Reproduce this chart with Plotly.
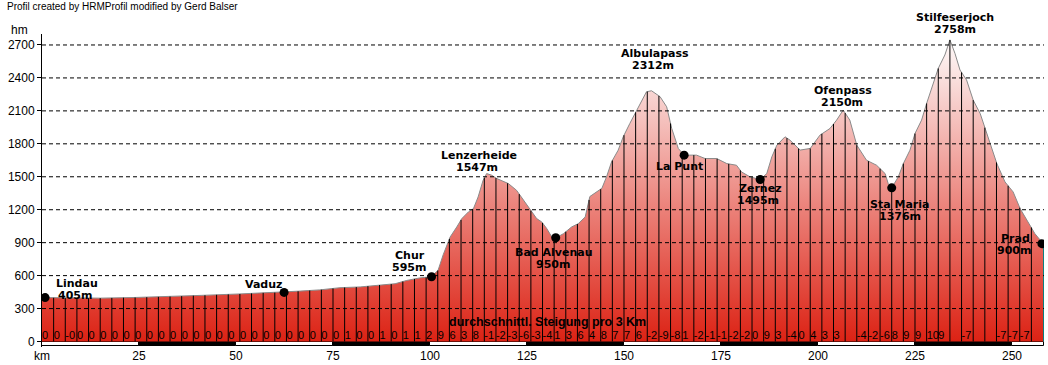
import numpy as np
import plotly.graph_objects as go

# ---------------- data ----------------
profile_km = [0, 7.4, 15, 24, 32, 41, 51, 57.5, 62.4, 66.5, 71.6, 76.8, 82, 85.8, 91, 94, 97.4, 100.4,
              102.1, 103.4, 105.2, 106.9, 108.2, 109.9, 111.2, 112.4, 113.7, 114.6, 115.9, 117.2, 120.2,
              122.3, 123.2, 124.9, 126.2, 127.5, 128.8, 130.1, 131.4, 132.4, 134.4, 136.5, 138.2, 140.0,
              141.2, 143.0, 144.3, 145.5, 146.8, 148.5, 149.8, 151.5, 153.3, 154.6, 155.8, 157.1, 158.0,
              159.3, 161.0, 162.3, 164.0, 165.5, 167.0, 168.7, 170.9, 173.9, 176.5, 179.0, 180.3, 182.5,
              185.1, 186.8, 188.1, 189.4, 191.5, 192.8, 195.4, 198.0, 200.5, 203.1, 204.8, 206.5, 208.2,
              210.0, 212.5, 215.1, 217.3, 218.1, 219.0, 220.7, 222.0, 223.7, 225.0, 226.7, 228.0, 229.7,
              231.0, 232.7, 234.0, 235.3, 236.6, 238.3, 240.0, 241.8, 243.5, 246.1, 248.2, 250.3, 252.1,
              254.2, 255.9, 258.2]
profile_elev = [400, 395, 395, 401, 408, 420, 433, 444, 447, 459, 470, 490, 497, 511, 526, 556, 579, 590,
                650, 790, 952, 1043, 1119, 1180, 1210, 1316, 1469, 1529, 1514, 1484, 1438,
                1377, 1332, 1256, 1180, 1119, 1089, 1028, 952, 943, 982, 1043, 1073, 1134,
                1320, 1360, 1395, 1499, 1636, 1742, 1864, 1985, 2107, 2198, 2274, 2283, 2259,
                2229, 2137, 1940, 1758, 1697, 1697, 1697, 1666, 1666, 1620, 1605, 1544, 1499,
                1475, 1529, 1681, 1788, 1864, 1833, 1743, 1758, 1879, 1940, 2016, 2107, 2016,
                1788, 1651, 1605, 1529, 1438, 1399, 1499, 1620, 1742, 1894, 2016, 2168, 2350,
                2487, 2609, 2746, 2624, 2472, 2381, 2198, 2076, 1894, 1620, 1453, 1362, 1210,
                1088, 982, 885]

place_names = ["Lindau", "Vaduz", "Chur", "Lenzerheide", "Bad Alvenau", "Albulapass", "La Punt",
               "Zernez", "Ofenpass", "Sta Maria", "Stilfeserjoch", "Prad"]
place_heights = ["405m", "", "595m", "1547m", "950m", "2312m", "", "1495m", "2150m", "1376m", "2758m", "900m"]
place_km = [0.8, 62.4, 100.4, 114.6, 132.4, 157.1, 165.5, 185.1, 206.5, 219.0, 234.0, 257.7]
place_elev = [400, 447, 590, 1529, 945, 2283, 1697, 1475, 2107, 1399, 2746, 891]
place_dot = [True, True, True, False, True, False, True, True, False, True, False, True]

# average gradient per 3 km section (as printed)
grad_labels = ["0", "0", "-0", "0", "0", "0", "0", "0", "0", "0", "0", "0", "0", "0", "0", "0", "0",
               "0", "0", "0", "0", "0", "0", "0", "0", "0",
               "1", "0", "0", "1", "0", "1", "1", "2",
               "9", "6", "3", "8", "-1", "-2", "-3", "-6", "-3", "-4", "1", "3", "6", "4", "8", "7", "7",
               "6", "-2", "-9", "-8", "1", "-2", "-1", "-1", "-2", "-2", "0", "9", "3", "-4", "0", "4",
               "3", "3",
               "", "-4", "-2", "-6", "8", "9", "9", "10", "9", "", "-7", "", "", "-7", "-7", "-7", ""]

y_ticks = [0, 300, 600, 900, 1200, 1500, 1800, 2100, 2400, 2700]
x_ticks = [0, 25, 50, 75, 100, 125, 150, 175, 200, 225, 250]
x_tick_text = ["km", "25", "50", "75", "100", "125", "150", "175", "200", "225", "250"]
band_edges = [0, 25, 50, 75, 100, 125, 150, 175, 200, 225, 250, 258.25]

# ---------------- styles / layout constants ----------------
X_MAX = 258.25
SECTION = 3
# label offsets in px (name dx, name dy, height dx, height dy) relative to anchor point
label_offsets = [(32, 14, 30, 2), (-21, 8, 0, 0), (-22, 21, -23, 9), (-8, 18, -10, 6),
                 (-2, -15, -3, -27), (3, 37, 1, 25), (-5, -11, 0, 0), (0, -9, -2, -21),
                 (0, 20, -1, 8), (8, -17, 8, -29), (5, 22, 5, 10), (-26, 5, -28, -7)]
FONT = "Liberation Sans, Arial, sans-serif"
LABEL_FONT = "DejaVu Sans, Verdana, sans-serif"

fig = go.Figure()

# profile area with vertical gradient
fig.add_trace(go.Scatter(
    x=profile_km, y=profile_elev, mode="lines",
    line=dict(color="#8a8a8a", width=1),
    fill="tozeroy",
    fillgradient=dict(type="vertical", colorscale=[[0, "#dc2214"], [1, "#ffffff"]], start=0, stop=2800),
    hoverinfo="skip", showlegend=False))

# section dividers every 3 km
div_km = np.arange(SECTION, X_MAX - 2, SECTION)
div_top = np.interp(div_km, profile_km, profile_elev)
dx, dy = [], []
for k, t in zip(div_km, div_top):
    dx += [k, k, None]
    dy += [0, t, None]
fig.add_trace(go.Scatter(x=dx, y=dy, mode="lines", line=dict(color="black", width=1),
                         hoverinfo="skip", showlegend=False))

# teal right edge
fig.add_trace(go.Scatter(x=[profile_km[-1], profile_km[-1]], y=[0, profile_elev[-1]], mode="lines",
                         line=dict(color="#008080", width=1.5), hoverinfo="skip", showlegend=False))

# dashed grid lines on top
gx, gy = [], []
for v in y_ticks[1:]:
    gx += [0, X_MAX, None]
    gy += [v, v, None]
fig.add_trace(go.Scatter(x=gx, y=gy, mode="lines", line=dict(color="black", width=1, dash="4px,3px"),
                         hoverinfo="skip", showlegend=False))

# gradient labels
fig.add_trace(go.Scatter(
    x=[i * SECTION for i in range(len(grad_labels))], y=[45] * len(grad_labels),
    mode="text", text=grad_labels, textposition="middle right",
    textfont=dict(family=FONT, size=11, color="black"), hoverinfo="skip", showlegend=False))

# bottom scale band
centers = [(a + b) / 2 for a, b in zip(band_edges[:-1], band_edges[1:])]
widths = [b - a for a, b in zip(band_edges[:-1], band_edges[1:])]
colors = ["white" if i % 2 == 0 else "black" for i in range(len(centers))]
fig.add_trace(go.Bar(x=centers, y=[40] * len(centers), base=-45, width=widths,
                     marker=dict(color=colors, line=dict(color="black", width=1)),
                     hoverinfo="skip", showlegend=False))

# place dots
fig.add_trace(go.Scatter(
    x=[k for k, d in zip(place_km, place_dot) if d],
    y=[e for e, d in zip(place_elev, place_dot) if d],
    mode="markers", marker=dict(color="black", size=9), hoverinfo="skip", showlegend=False))

annotations = []
for name, h, k, e, off in zip(place_names, place_heights, place_km, place_elev, label_offsets):
    annotations.append(dict(x=k, y=e, text="<b>%s</b>" % name, showarrow=False,
                            xanchor="center", yanchor="middle", xshift=off[0], yshift=off[1],
                            font=dict(family=LABEL_FONT, size=11, color="black")))
    if h:
        annotations.append(dict(x=k, y=e, text="<b>%s</b>" % h, showarrow=False,
                                xanchor="center", yanchor="middle", xshift=off[2], yshift=off[3],
                                font=dict(family=LABEL_FONT, size=11, color="black")))

annotations.append(dict(x=130.4, y=182, text="<b>durchschnittl. Steigung pro 3 Km</b>", showarrow=False,
                        xanchor="center", yanchor="middle",
                        font=dict(family=FONT, size=12.5, color="black")))
annotations.append(dict(xref="paper", yref="paper", x=0, y=1, xshift=-37, yshift=28,
                        text="Profil created by HRMProfil modified by Gerd Balser", showarrow=False,
                        xanchor="left", yanchor="middle", font=dict(family=FONT, size=10, color="black")))
annotations.append(dict(xref="paper", yref="paper", x=0, y=1, xshift=-23, yshift=4,
                        text="hm", showarrow=False, xanchor="center", yanchor="middle",
                        font=dict(family=FONT, size=12, color="black")))

fig.update_layout(
    width=1048, height=365,
    margin=dict(l=42, r=4, t=34, b=18),
    paper_bgcolor="white", plot_bgcolor="white",
    annotations=annotations,
    bargap=0,
    xaxis=dict(range=[0, X_MAX], tickvals=x_ticks, ticktext=x_tick_text, ticks="",
               showgrid=False, zeroline=False, showline=False, automargin=False,
               tickfont=dict(family=FONT, size=12, color="black")),
    yaxis=dict(range=[-50, 2800], tickvals=y_ticks, ticks="outside", ticklen=4, tickcolor="black",
               showline=True, linecolor="black", linewidth=1, showgrid=False, zeroline=False,
               automargin=False, tickfont=dict(family=FONT, size=12, color="black")),
)

fig.write_html("out.html", config={"displayModeBar": False},
               post_script="document.body.style.margin='0px';document.body.style.overflow='hidden';")
